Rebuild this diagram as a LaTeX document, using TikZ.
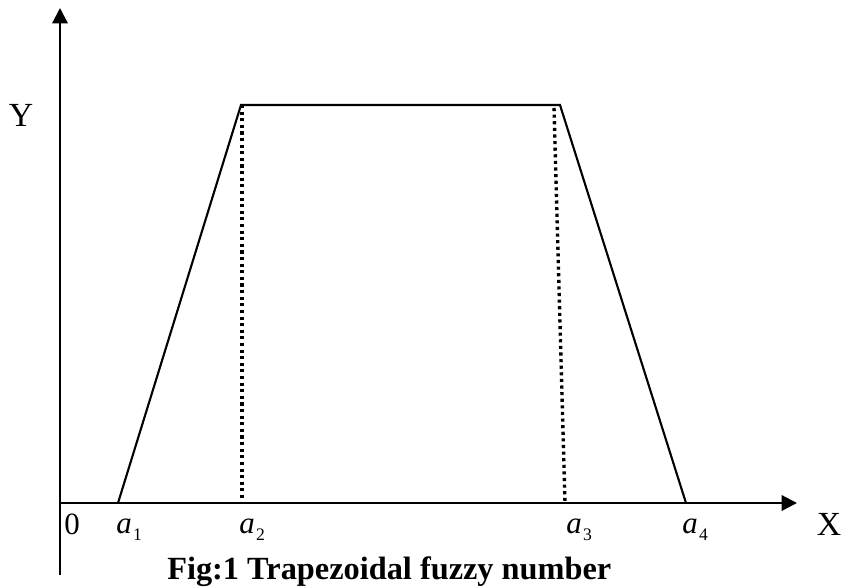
\documentclass[tikz,border=0pt]{standalone}
\usepackage{fontspec}
\setmainfont{Liberation Serif}
\usetikzlibrary{arrows.meta}

\newcommand{\lbl}[1]{{\itshape a}\kern1pt\raisebox{-5.6pt}{\fontsize{12.5}{14}\selectfont #1}}

\begin{document}
\begin{tikzpicture}[
    x=0.025cm, y=-0.025cm,
    axis/.style={
      line width=1.6pt,
      -{Triangle[length=11pt,width=11pt]}
    },
    edge/.style={
      line width=1.5pt
    },
    guide/.style={
      line width=2.4pt,
      dash pattern=on 2.2pt off 2.5pt
    },
    tick/.style={
      font=\fontsize{22}{26}\selectfont,
      inner sep=0pt,
      anchor=base west
    }]

    \useasboundingbox (0,0) rectangle (841,587);

    % Corner points
    \coordinate (ybot) at (60,575);
    \coordinate (ytop) at (60,8);
    \coordinate (orig) at (60,503);
    \coordinate (xend) at (797,503);
    \coordinate (p1) at (118,503);
    \coordinate (p2) at (241,105);
    \coordinate (p3) at (560,105);
    \coordinate (p4) at (686,503);
    \coordinate (q2top) at (242,105);
    \coordinate (q2bot) at (242,503);
    \coordinate (q3top) at (554,108);
    \coordinate (q3bot) at (565,503);

    % Axes
    \draw[axis] (ybot) -- (ytop);
    \draw[axis] (orig) -- (xend);

    % Trapezoid
    \draw[edge,line join=miter] (p1) -- (p2) -- (p3) -- (p4);
    \draw[guide] (q2top) -- (q2bot);
    \draw[guide] (q3top) -- (q3bot);

    % Labels
    \node[tick,font=\fontsize{24}{27}\selectfont,anchor=center] (ylab) at (21,115) {Y};
    \node[tick,font=\fontsize{24}{27}\selectfont,anchor=center] (xlab) at (829,524) {X};
    \node[tick] (zero) at (64,534) {0};
    \node[tick] (a1) at (116,533) {\lbl{1}};
    \node[tick] (a2) at (239,533) {\lbl{2}};
    \node[tick] (a3) at (566,533) {\lbl{3}};
    \node[tick] (a4) at (682,533) {\lbl{4}};

    % Caption
    \node[tick,font=\fontsize{23}{26}\selectfont\bfseries] (cap) at (167,579)
      {Fig:1 Trapezoidal fuzzy number};
  \end{tikzpicture}
\end{document}
